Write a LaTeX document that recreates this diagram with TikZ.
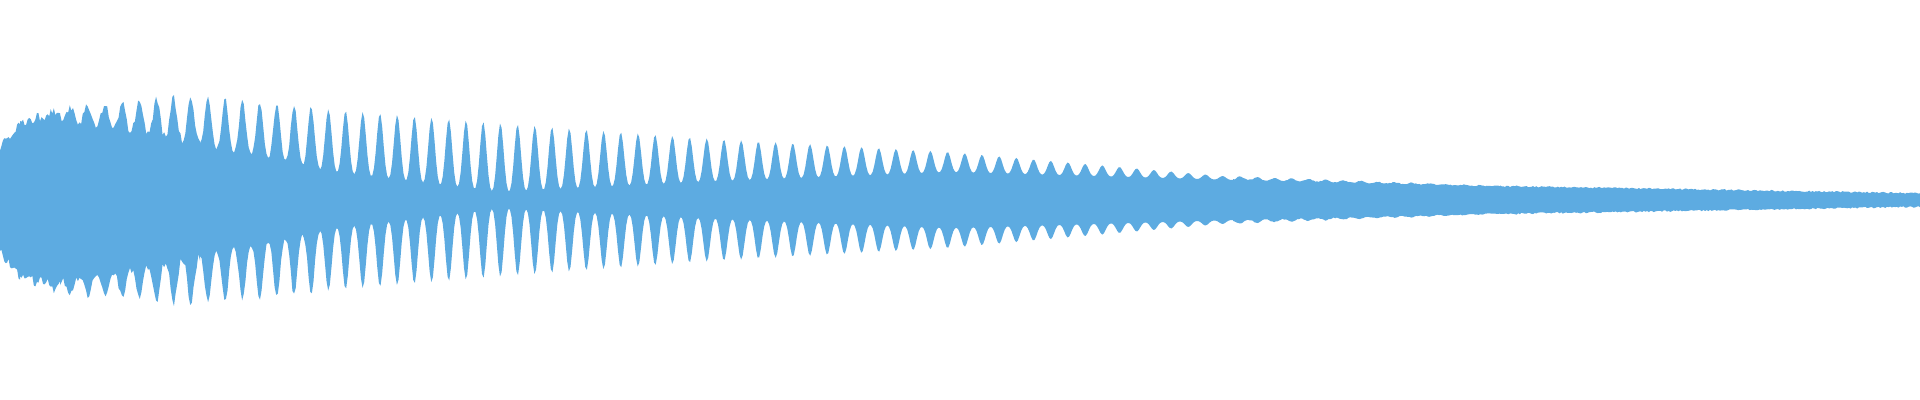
\documentclass[tikz,border=0pt]{standalone}
\definecolor{wave}{RGB}{93,171,225}

\begin{document}
\begin{tikzpicture}[
        x=0.01cm, y=-0.01cm,
        wavefill/.style={fill=wave, draw=none},
        declare function={
            half(\x) = (1+cos(mod(\x+1720-208,17.2)*(360/17.2)))/2;
            shape(\h) = \h*(0.55+0.45*\h);
            ramp(\x,\a,\b,\ya,\yb) = \ya+(\yb-\ya)*((\x-\a)/(\b-\a));
        },
    ]

    \useasboundingbox (0,0) rectangle (1920,400);
    \pgfmathsetseed{7}

    % segments: from/to/peak at ends/valley at ends/jitter
    \def\segs{0/20/48/72/48/72/9, 20/60/72/88/72/78/9, 60/200/88/101/78/53/8,
        200/320/101/91.4/53/30/4, 320/500/91.4/77/30/8/0, 500/700/77/62/8/18/0,
        700/950/62/48/18/28/0, 950/1233/48/23/28/20/0, 1233/1500/23/13.5/20/13/1,
        1500/1920/13.5/6/13/6/1.5}
    \def\segsback{1500/1920/13.5/6/13/6/1.5, 1233/1500/23/13.5/20/13/1,
        950/1233/48/23/28/20/0, 700/950/62/48/18/28/0, 500/700/77/62/8/18/0,
        320/500/91.4/77/30/8/0, 200/320/101/91.4/53/30/4, 60/200/88/101/78/53/8,
        20/60/72/88/72/78/9, 0/20/48/72/48/72/9}

    % waveform, upper edge then lower edge
    \fill[wavefill] (0,152)
        \foreach \a/\b/\pa/\pb/\va/\vb/\j
            [evaluate=\a as \n using {int((\b-\a)*0.6)+3}] in \segs {
            -- plot[domain=\a:\b, samples=\n, variable=\x]
                (\x, {200-ramp(\x,\a,\b,\va,\vb)
                    -(ramp(\x,\a,\b,\pa,\pb)-ramp(\x,\a,\b,\va,\vb))*shape(half(\x))-\j*rnd})
        }
        \foreach \a/\b/\pa/\pb/\va/\vb/\j
            [evaluate=\a as \n using {int((\b-\a)*0.6)+3}] in \segsback {
            -- plot[domain=\b:\a, samples=\n, variable=\x]
                (\x, {200+ramp(\x,\a,\b,\va,\vb)
                    +(ramp(\x,\a,\b,\pa,\pb)-ramp(\x,\a,\b,\va,\vb))*shape(half(\x))+\j*rnd})
        }
        -- cycle;
\end{tikzpicture}
\end{document}
